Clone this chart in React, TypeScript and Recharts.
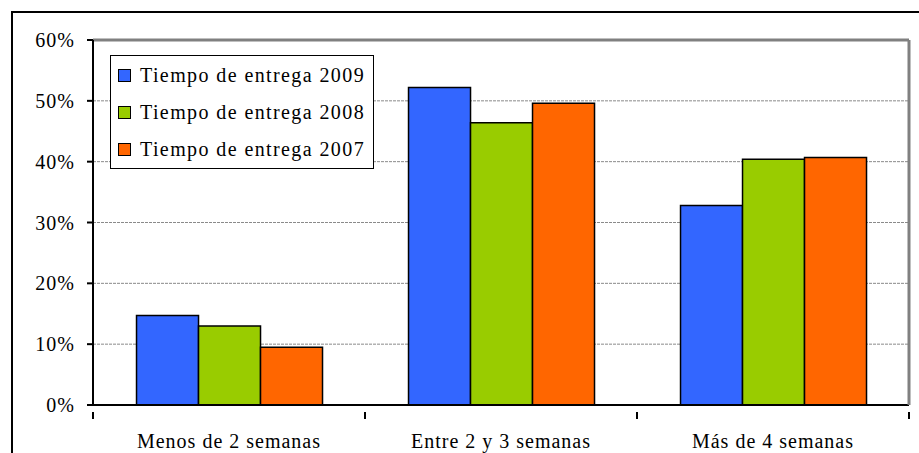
import { BarChart, Bar, XAxis, YAxis, CartesianGrid, Legend, ReferenceLine } from 'recharts';

const categories = ['Menos de 2 semanas', 'Entre 2 y 3 semanas', 'Más de 4 semanas'];
const entrega2009 = [14.7, 52.2, 32.8];
const entrega2008 = [13.0, 46.4, 40.4];
const entrega2007 = [9.5, 49.6, 40.7];
const yTicks = [0, 10, 20, 30, 40, 50, 60];

const SERIES = [
  { key: 'y2009', name: 'Tiempo de entrega 2009', color: '#3366FF' },
  { key: 'y2008', name: 'Tiempo de entrega 2008', color: '#99CC00' },
  { key: 'y2007', name: 'Tiempo de entrega 2007', color: '#FF6600' },
];

const FONT = 'Liberation Serif';

const data = categories.map((c, i) => ({
  name: c,
  y2009: entrega2009[i],
  y2008: entrega2008[i],
  y2007: entrega2007[i],
}));

const BAND = (909 - 93) / categories.length;

function CategoryTick(props: any) {
  const { x, y, payload, index } = props;
  return (
    <g>
      {index === 0 && <line x1={x - BAND / 2} x2={x - BAND / 2} y1={y - 1} y2={y + 6} stroke="#000" strokeWidth={2} />}
      <line x1={x + BAND / 2} x2={x + BAND / 2} y1={y - 1} y2={y + 6} stroke="#000" strokeWidth={2} />
      <text x={x} y={y + 35} textAnchor="middle" style={{ fontFamily: FONT }} fontSize={20} letterSpacing={1} fill="#000">
        {payload.value}
      </text>
    </g>
  );
}

function LegendBox() {
  return (
    <div
      style={{
        position: 'absolute',
        left: 110,
        top: 55,
        width: 264,
        height: 114,
        boxSizing: 'border-box',
        border: '1.5px solid #000',
        background: '#fff',
        fontFamily: FONT,
        fontSize: 20,
        letterSpacing: 1.4,
        paddingTop: 1,
      }}
    >
      {SERIES.map((s) => (
        <div key={s.key} style={{ display: 'flex', alignItems: 'center', height: 37 }}>
          <span
            style={{
              display: 'inline-block',
              width: 13,
              height: 13,
              boxSizing: 'border-box',
              border: '1.5px solid #000',
              background: s.color,
              marginLeft: 7,
              marginRight: 9,
            }}
          />
          <span>{s.name}</span>
        </div>
      ))}
    </div>
  );
}

export default function App() {
  return (
    <div style={{ position: 'fixed', left: 0, top: 0, width: 919, height: 453, overflow: 'hidden', background: '#fff' }}>
      <div
        style={{
          position: 'absolute',
          left: 11,
          top: 11,
          width: 1000,
          height: 1000,
          boxSizing: 'border-box',
          border: '2px solid #000',
        }}
      />
      <div style={{ position: 'absolute', left: 0, top: 0 }}>
        <BarChart
          width={919}
          height={453}
          data={data}
          margin={{ top: 40, right: 9, bottom: 0, left: 0 }}
          barCategoryGap="16%"
          barGap={0}
        >
          <CartesianGrid yAxisId="left" vertical={false} stroke="#8a8a8a" strokeDasharray="3 1" />
          <XAxis
            dataKey="name"
            axisLine={{ stroke: '#000', strokeWidth: 2 }}
            tickLine={false}
            tick={<CategoryTick />}
            interval={0}
            height={48}
          />
          <YAxis
            yAxisId="left"
            width={93}
            domain={[0, 60]}
            ticks={yTicks}
            tickFormatter={(v) => `${v}%`}
            axisLine={{ stroke: '#000', strokeWidth: 2 }}
            tickLine={{ stroke: '#000', strokeWidth: 2 }}
            tickSize={6}
            tickMargin={12}
            tick={{ fill: '#000', fontFamily: FONT, fontSize: 20, letterSpacing: 1 }}
          />
          <YAxis
            yAxisId="right"
            orientation="right"
            width={1}
            domain={[0, 60]}
            tick={false}
            tickLine={false}
            axisLine={{ stroke: '#808080', strokeWidth: 3 }}
          />
          <ReferenceLine yAxisId="left" y={60} stroke="#808080" strokeWidth={3} ifOverflow="visible" />
          <Legend content={() => null} />
          {SERIES.map((s) => (
            <Bar
              key={s.key}
              yAxisId="left"
              dataKey={s.key}
              name={s.name}
              fill={s.color}
              stroke="#000"
              strokeWidth={1.5}
              isAnimationActive={false}
            />
          ))}
        </BarChart>
      </div>
      <LegendBox />
    </div>
  );
}
